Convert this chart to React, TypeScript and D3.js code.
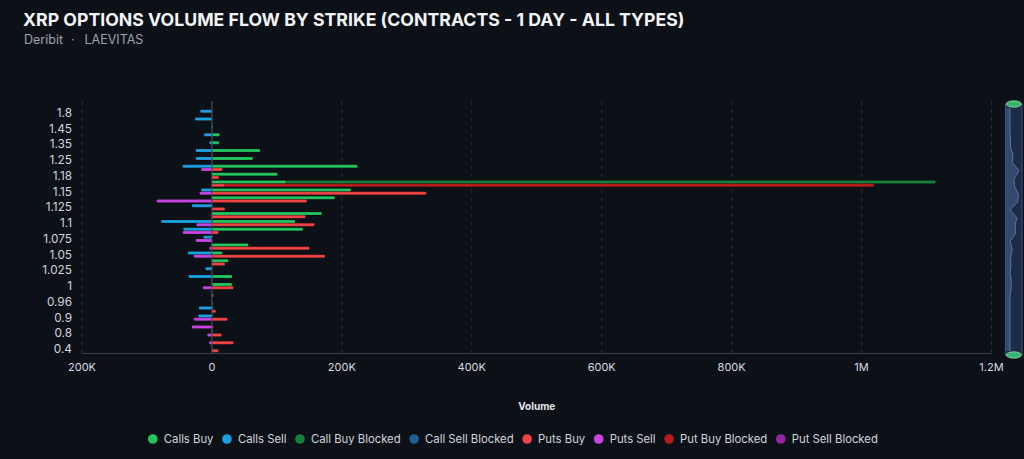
import React, { useEffect } from "react";
import * as d3 from "d3";

// strikes, bottom to top (every other one gets a label)
const strikes = [
  "0.4", "0.6", "0.8", "0.85", "0.9", "0.94", "0.96", "0.98",
  "1", "1.02", "1.025", "1.04", "1.05", "1.06", "1.075", "1.08",
  "1.1", "1.12", "1.125", "1.14", "1.15", "1.16", "1.18", "1.2",
  "1.25", "1.3", "1.35", "1.4", "1.45", "1.5", "1.8", "2",
];

// volumes in thousands of contracts, same order as strikes
const callsBuy = [0, 0, 1, 0, 1, 1.5, 0, 0, 31, 31, 0, 25, 16, 56, 0, 140, 128, 169, 0, 189, 214, 114, 101, 224, 63, 74, 11, 12, 1, 0, 0, 0];
const callsSell = [0, 0, 0, 0, -21, -20, 0, 0, 0, -36, -10, 0, -37, -1, -13, -44, -78, 0, -31, 0, -16.5, 0, 0, -45, -25, -25, -4, -12, 0, -26, -18, 0];
const callBuyBlocked = [0, 0, 0, 0, 0, 0, 0, 0, 0, 0, 0, 0, 0, 0, 0, 0, 0, 0, 0, 0, 0, 1000, 0, 0, 0, 0, 0, 0, 0, 0, 0, 0];
const callSellBlocked = [0, 0, 0, 0, 0, 0, 0, 0, 0, 0, 0, 0, 0, 0, 0, 0, 0, 0, 0, 0, 0, 0, 0, 0, 0, 0, 0, 0, 0, 0, 0, 0];
const putsBuy = [10, 33, 15, 2, 24, 6, 1, 2.5, 33, 0, 0, 20, 174, 150, 0, 10, 158, 144, 20, 146, 330, 20, 10.5, 16, 0, 0, 0, 0, 0, 0, 0, 0];
const putsSell = [0, -4.5, -7, -31, -28, 0, 0, 0, -14, -1, 0, 0, -28, -4, -25, -45, -24, 0, 0, -85, -19, 0, 0, -16.5, 0, 0, 0, 0, 0, 0, 0, 0];
const putBuyBlocked = [0, 0, 0, 0, 0, 0, 0, 0, 0, 0, 0, 0, 0, 0, 0, 0, 0, 0, 0, 0, 0, 999, 0, 0, 0, 0, 0, 0, 0, 0, 0, 0];
const putSellBlocked = [0, 0, 0, 0, 0, 0, 0, 0, 0, 0, 0, 0, 0, 0, 0, 0, 0, 0, 0, 0, 0, 0, 0, 0, 0, 0, 0, 0, 0, 0, 0, 0];

const xTicks = [-200000, 0, 200000, 400000, 600000, 800000, 1000000, 1200000];

const series = [
  { key: "callsBuy", name: "Calls Buy", color: "#22c55e", group: "calls" },
  { key: "callsSell", name: "Calls Sell", color: "#1ba1e2", group: "calls" },
  { key: "callBuyBlocked", name: "Call Buy Blocked", color: "#17803d", group: "calls" },
  { key: "callSellBlocked", name: "Call Sell Blocked", color: "#1d5f93", group: "calls" },
  { key: "putsBuy", name: "Puts Buy", color: "#ef4444", group: "puts" },
  { key: "putsSell", name: "Puts Sell", color: "#c944e0", group: "puts" },
  { key: "putBuyBlocked", name: "Put Buy Blocked", color: "#b91c1c", group: "puts" },
  { key: "putSellBlocked", name: "Put Sell Blocked", color: "#9126a8", group: "puts" },
];

type Row = { strike: string; [k: string]: any };

const raw: Record<string, number[]> = {
  callsBuy, callsSell, callBuyBlocked, callSellBlocked,
  putsBuy, putsSell, putBuyBlocked, putSellBlocked,
};

const rows: Row[] = strikes.map((s, i) => {
  const r: Row = { strike: s };
  series.forEach((se) => (r[se.key] = raw[se.key][i] * 1000));
  return r;
});

const W = 1024;
const H = 459;
const plot = { left: 82, right: 991.5, top: 101, bottom: 353 };
const BG = "#0c1017";
const FONT = "Inter, 'Noto Sans', sans-serif";
const LEGEND_SIZE = 11.3;

const fmt = (v: number) => {
  const a = Math.abs(v);
  if (a === 0) return "0";
  if (a >= 1e6) return `${+(a / 1e6).toFixed(1)}M`;
  return `${a / 1e3}K`;
};

export default function App() {
  useEffect(() => {
    document.body.style.margin = "0";
    document.body.style.background = BG;
  }, []);

  const x = d3.scaleLinear().domain([-200000, 1200000]).range([plot.left, plot.right]);
  const y = d3.scaleBand<string>().domain(strikes).range([plot.bottom, plot.top]);
  const bw = y.bandwidth();
  const sub = d3.scaleBand<string>().domain(["calls", "puts"]).range([bw / 2 - 3.1, bw / 2 + 3.1]).paddingInner(0.1);

  const stacks = ["calls", "puts"].flatMap((g) =>
    d3
      .stack<Row>()
      .keys(series.filter((s) => s.group === g).map((s) => s.key))
      .offset(d3.stackOffsetDiverging)(rows)
      .map((layer) => ({ layer, g }))
  );
  const colorOf = (k: string) => series.find((s) => s.key === k)!.color;

  // legend layout from text widths
  const ctx = document.createElement("canvas").getContext("2d")!;
  ctx.font = `${LEGEND_SIZE}px ${FONT}`;
  let lx = 152.8;
  const legend = series.map((s) => {
    const item = { ...s, cx: lx };
    lx += 11 + ctx.measureText(s.name).width + 13.5;
    return item;
  });

  // data zoom slider with shadow of the first series
  const sl = { x0: 1005.5, x1: 1022, y0: 104, y1: 355 };
  const ys = d3.scaleBand<string>().domain(strikes).range([sl.y1, sl.y0]);
  const sx = d3.scaleLinear().domain([0, d3.max(callsBuy)!]).range([sl.x0 + 4.5, sl.x1 - 3]);
  const shadow = d3
    .area<number>()
    .y((_, i) => ys(strikes[i])! + ys.bandwidth() / 2)
    .x0(sl.x0 + 0.5)
    .x1((v) => sx(v));
  const shadowLine = d3
    .line<number>()
    .y((_, i) => ys(strikes[i])! + ys.bandwidth() / 2)
    .x((v) => sx(v));

  return (
    <svg width={W} height={H} style={{ display: "block", background: BG }} fontFamily={FONT}>
      <rect width={W} height={H} fill={BG} />
      <text x={23} y={26} fontSize={17.7} fontWeight={700} fill="#f3f4f6">
        XRP OPTIONS VOLUME FLOW BY STRIKE (CONTRACTS - 1 DAY - ALL TYPES)
      </text>
      <text y={44} fontSize={12.5} fill="#9ca3af">
        <tspan x={24}>Deribit</tspan>
        <tspan x={71}>·</tspan>
        <tspan x={84.5}>LAEVITAS</tspan>
      </text>

      {/* grid */}
      {xTicks.filter((t) => t !== 0).map((t) => (
        <line key={t} x1={x(t)} x2={x(t)} y1={plot.top} y2={plot.bottom} stroke="#2a2f37" strokeDasharray="4 4" />
      ))}
      <line x1={plot.left} x2={plot.right} y1={plot.bottom + 0.5} y2={plot.bottom + 0.5} stroke="#3a3f47" />

      {/* bars */}
      {stacks.map(({ layer, g }) =>
        layer.map((d, i) => {
          const a = x(Math.min(d[0], d[1]));
          const b = x(Math.max(d[0], d[1]));
          if (b - a <= 0) return null;
          return (
            <rect
              key={`${layer.key}-${i}`}
              x={a}
              y={y(d.data.strike)! + sub(g)!}
              width={b - a}
              height={sub.bandwidth()}
              rx={0.8}
              fill={colorOf(layer.key)}
              stroke="rgba(0,0,0,0.35)"
              strokeWidth={0.4}
            />
          );
        })
      )}
      <line x1={x(0)} x2={x(0)} y1={plot.top} y2={plot.bottom} stroke="#555b64" />

      {/* y axis labels */}
      {strikes.map((s, i) =>
        i % 2 === 0 ? (
          <text key={s} x={72} y={y(s)! + bw / 2} dy="0.35em" textAnchor="end" fontSize={11.8} fill="#d1d5db">
            {s}
          </text>
        ) : null
      )}

      {/* x axis labels */}
      {xTicks.map((t) => (
        <text key={t} x={x(t)} y={371} textAnchor="middle" fontSize={11} fill="#d8dbe0">
          {fmt(t)}
        </text>
      ))}
      <text x={(plot.left + plot.right) / 2} y={410} textAnchor="middle" fontSize={10} fontWeight={700} fill="#e5e7eb">
        Volume
      </text>

      {/* legend */}
      {legend.map((l) => (
        <g key={l.key} transform={`translate(${l.cx},439)`}>
          <circle r={4.8} fill={l.color} />
          <text x={11} dy="0.35em" fontSize={LEGEND_SIZE} fill="#d1d5db">
            {l.name}
          </text>
        </g>
      ))}

      {/* data zoom slider */}
      <rect x={sl.x0} y={sl.y0} width={sl.x1 - sl.x0} height={sl.y1 - sl.y0} fill="#1d2b47" stroke="#3c5683" />
      <path d={shadow(callsBuy)!} fill="rgba(98,128,180,0.35)" />
      <path d={shadowLine(callsBuy)!} fill="none" stroke="rgba(150,180,225,0.6)" strokeWidth={0.8} />
      {[sl.y0, sl.y1].map((hy) => (
        <ellipse key={hy} cx={(sl.x0 + sl.x1) / 2} cy={hy} rx={7.5} ry={3.2} fill="#35b56e" stroke="#8fdcae" strokeWidth={0.8} />
      ))}
    </svg>
  );
}
